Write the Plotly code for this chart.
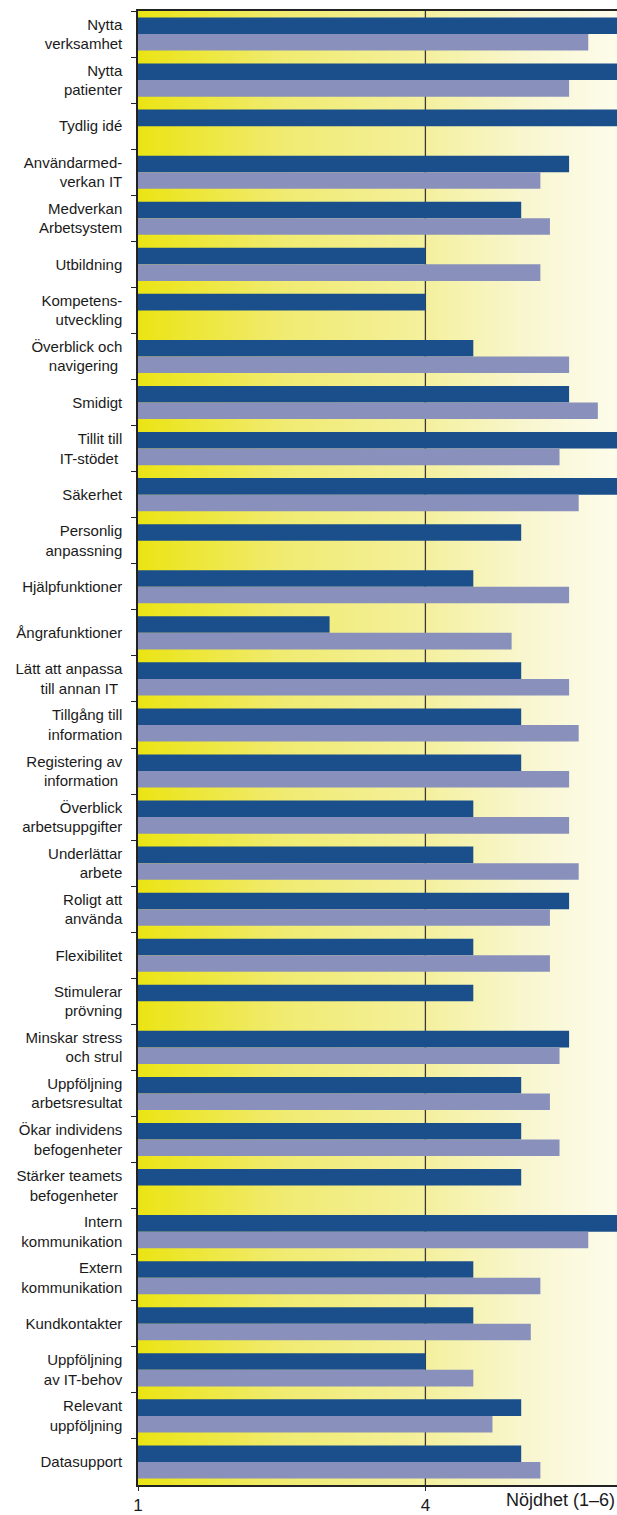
import plotly.graph_objects as go

categories = [
    "Nytta<br>verksamhet", "Nytta<br>patienter", "Tydlig idé", "Användarmed-<br>verkan IT",
    "Medverkan<br>Arbetsystem", "Utbildning", "Kompetens-<br>utveckling",
    "Överblick och<br>navigering\u00a0", "Smidigt", "Tillit till<br>IT-stödet\u00a0", "Säkerhet",
    "Personlig<br>anpassning", "Hjälpfunktioner", "Ångrafunktioner",
    "Lätt att anpassa<br>till annan IT\u00a0", "Tillgång till<br>information",
    "Registering av<br>information\u00a0", "Överblick<br>arbetsuppgifter", "Underlättar<br>arbete",
    "Roligt att<br>använda", "Flexibilitet", "Stimulerar<br>prövning", "Minskar stress<br>och strul",
    "Uppföljning<br>arbetsresultat", "Ökar individens<br>befogenheter",
    "Stärker teamets<br>befogenheter\u00a0", "Intern<br>kommunikation", "Extern<br>kommunikation",
    "Kundkontakter", "Uppföljning<br>av IT-behov", "Relevant<br>uppföljning", "Datasupport",
]

series_a = [6.0, 6.0, 6.0, 5.5, 5.0, 4.0, 4.0, 4.5, 5.5, 6.0, 6.0, 5.0, 4.5, 3.0, 5.0, 5.0,
            5.0, 4.5, 4.5, 5.5, 4.5, 4.5, 5.5, 5.0, 5.0, 5.0, 6.0, 4.5, 4.5, 4.0, 5.0, 5.0]
series_b = [5.7, 5.5, None, 5.2, 5.3, 5.2, None, 5.5, 5.8, 5.4, 5.6, None, 5.5, 4.9, 5.5, 5.6,
            5.5, 5.5, 5.6, 5.3, 5.3, None, 5.4, 5.3, 5.4, None, 5.7, 5.2, 5.1, 4.5, 4.7, 5.2]

x_ticks = [1, 4]
x_ticklabels = ["1", "4"]
x_title = "Nöjdhet (1–6)"

FONT = "Liberation Sans, Arial, sans-serif"

fig = go.Figure()
fig.add_trace(go.Bar(y=categories, x=series_a, orientation="h",
                     marker=dict(color="#1b4f8c", line=dict(width=0)), name="A"))
fig.add_trace(go.Bar(y=categories, x=series_b, orientation="h",
                     marker=dict(color="#8890bb", line=dict(width=0)), name="B"))

# background gradient (yellow -> cream)
stops = [(1.0, (235, 228, 20)), (2.5, (240, 235, 112)), (4.0, (244, 240, 158)),
         (5.0, (248, 246, 205)), (6.0, (253, 252, 236))]

def col_at(v):
    for (x0, c0), (x1, c1) in zip(stops[:-1], stops[1:]):
        if x0 <= v <= x1:
            t = (v - x0) / (x1 - x0)
            return "rgb(%d,%d,%d)" % tuple(round(c0[i] + (c1[i] - c0[i]) * t) for i in range(3))
    return "rgb(%d,%d,%d)" % stops[-1][1]

shapes = []
N = 150
for i in range(N):
    a = 1 + 5 * i / N
    b = 1 + 5 * (i + 1) / N
    shapes.append(dict(type="rect", xref="x", yref="paper", x0=a, x1=b + 0.01, y0=0, y1=1,
                       fillcolor=col_at((a + b) / 2), line=dict(width=0), layer="below"))
shapes.append(dict(type="line", xref="x", yref="paper", x0=4, x1=4, y0=0, y1=1,
                   line=dict(color="#3a3a3a", width=1.3), layer="below"))

fig.update_layout(
    width=617, height=1515,
    margin=dict(l=138, r=0, t=11, b=28),
    barmode="group", bargap=0.28, bargroupgap=0,
    showlegend=False,
    paper_bgcolor="white", plot_bgcolor="white",
    font=dict(family=FONT, color="#1a1a1a"),
    shapes=shapes,
    xaxis=dict(range=[1, 6], tickvals=x_ticks, ticktext=x_ticklabels, showgrid=False,
               zeroline=False, ticks="outside", ticklen=4, tickcolor="#222",
               tickfont=dict(size=17, family=FONT, color="#1a1a1a"),
               showline=True, mirror=True, linecolor="#222", linewidth=1.5),
    yaxis=dict(autorange="reversed", type="category", tickson="boundaries", ticks="outside",
               ticklen=5, tickcolor="#222", showline=True, linecolor="#222", linewidth=1.5,
               ticklabelstandoff=11,
               showgrid=False, tickfont=dict(size=15, family=FONT, color="#1a1a1a")),
    annotations=[dict(text=x_title, xref="paper", yref="paper", x=1, y=0, xanchor="right",
                      yanchor="top", yshift=-3, showarrow=False,
                      font=dict(size=18, family=FONT, color="#1a1a1a"))],
)

fig.write_html("out.html")
